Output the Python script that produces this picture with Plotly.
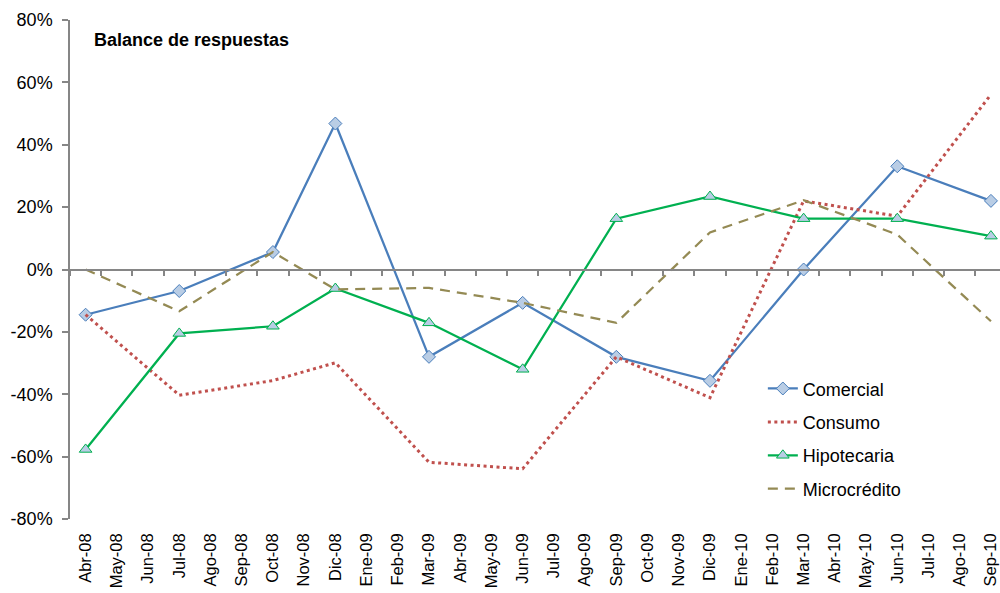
import plotly.graph_objects as go

months = ["Abr-08", "May-08", "Jun-08", "Jul-08", "Ago-08", "Sep-08", "Oct-08", "Nov-08",
          "Dic-08", "Ene-09", "Feb-09", "Mar-09", "Abr-09", "May-09", "Jun-09", "Jul-09",
          "Ago-09", "Sep-09", "Oct-09", "Nov-09", "Dic-09", "Ene-10", "Feb-10", "Mar-10",
          "Abr-10", "May-10", "Jun-10", "Jul-10", "Ago-10", "Sep-10"]

survey_months = ["Abr-08", "Jul-08", "Oct-08", "Dic-08", "Mar-09", "Jun-09",
                 "Sep-09", "Dic-09", "Mar-10", "Jun-10", "Sep-10"]

comercial = [-14.5, -6.9, 5.6, 46.8, -28.0, -10.7, -28.0, -35.7, 0.0, 33.1, 22.0]
consumo = [-14.5, -40.3, -35.6, -29.9, -61.8, -63.9, -28.0, -41.1, 22.0, 17.1, 56.1]
hipotecaria = [-57.7, -20.5, -18.2, -6.1, -17.1, -32.0, 16.3, 23.4, 16.3, 16.3, 10.7]
microcredito = [0.0, -13.4, 5.6, -6.4, -5.9, -10.7, -17.1, 11.9, 22.2, 11.2, -16.6]

y_ticks = [-80, -60, -40, -20, 0, 20, 40, 60, 80]
y_labels = [f"{v}%" for v in y_ticks]

FONT = "Liberation Sans, Arial, sans-serif"

fig = go.Figure()

def add(name, vals, color, dash, width, marker=None, group="a"):
    kw = {}
    if marker:
        kw["marker"] = marker
        mode = "lines+markers"
    else:
        mode = "lines"
    fig.add_trace(go.Scatter(
        x=survey_months, y=vals, name=name, mode=mode,
        line=dict(color=color, width=width, dash=dash),
        legendgroup=group, **kw))

add("Comercial", comercial, "#4A7EBB", "solid", 2.25,
    dict(symbol="diamond", size=10, color="#B9CDE5", line=dict(color="#4A7EBB", width=1)), "g1")
add("Consumo", consumo, "#C0504D", "3px,3.5px", 3, None, "g2")
add("Hipotecaria", hipotecaria, "#00B050", "solid", 2.25,
    dict(symbol="triangle-up", size=11, color="#B9CDE5", line=dict(color="#00B050", width=1)), "g3")
add("Microcrédito", microcredito, "#948A54", "10px,7px", 2.25, None, "g4")

# helper trace to register all categories on the zero-line axis
fig.add_trace(go.Scatter(x=months, y=[None] * len(months), xaxis="x2", mode="lines",
                         showlegend=False, hoverinfo="skip"))

xrange = [-0.5, 29.29]

fig.update_layout(
    width=1000, height=593,
    margin=dict(l=70, r=0, t=20, b=74),
    paper_bgcolor="white", plot_bgcolor="white",
    font=dict(family=FONT, color="black", size=18),
    showlegend=True,
    legend=dict(x=0.745, y=0.298, xanchor="left", yanchor="top",
                font=dict(size=18, family=FONT), tracegroupgap=7,
                bgcolor="rgba(0,0,0,0)"),
    xaxis=dict(type="category", categoryorder="array", categoryarray=months,
               range=xrange, showline=False, showgrid=False, zeroline=False,
               ticks="", tickangle=-90, tickfont=dict(size=16.5),
               ticklabelstandoff=10, automargin=False),
    xaxis2=dict(type="category", categoryorder="array", categoryarray=months,
                range=xrange, overlaying="x", anchor="free", position=0.5,
                showline=True, linecolor="#868686", linewidth=1.5,
                ticks="outside", ticklen=6, tickcolor="#868686", tickwidth=1.5,
                tickson="boundaries", showticklabels=False, showgrid=False, zeroline=False),
    yaxis=dict(range=[-80, 80], tickmode="array", tickvals=y_ticks, ticktext=y_labels,
               showline=True, linecolor="#868686", linewidth=1.5,
               ticks="outside", ticklen=6, tickcolor="#868686", tickwidth=1.5,
               ticklabelstandoff=6,
               showgrid=False, zeroline=False, tickfont=dict(size=18), automargin=False),
    annotations=[dict(text="<b>Balance de respuestas</b>", xref="paper", yref="paper",
                      x=0.024, y=0.96, xanchor="left", yanchor="middle", showarrow=False,
                      font=dict(size=18, family=FONT, color="black"))],
)

fig.write_html("out.html")
